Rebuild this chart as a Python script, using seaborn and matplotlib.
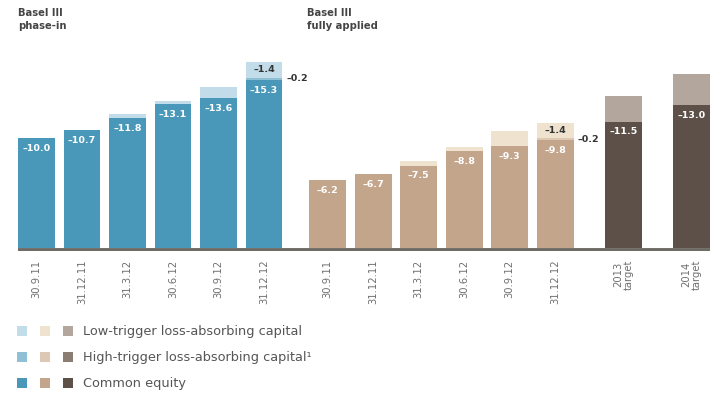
import matplotlib
matplotlib.use("Agg")
import matplotlib.pyplot as plt
from matplotlib.patches import Rectangle
import numpy as np
import pandas as pd
import seaborn as sns

# ---- data (capital ratios, %) ----
period_labels = ["30.9.11", "31.12.11", "31.3.12", "30.6.12", "30.9.12", "31.12.12"]
target_labels = ["2013\ntarget", "2014\ntarget"]

phase_in_common = [10.0, 10.7, 11.8, 13.1, 13.6, 15.3]
phase_in_high = [0.0, 0.0, 0.0, 0.0, 0.0, 0.2]
phase_in_low = [0.0, 0.0, 0.4, 0.3, 1.0, 1.4]

fully_common = [6.2, 6.7, 7.5, 8.8, 9.3, 9.8]
fully_high = [0.0, 0.0, 0.0, 0.0, 0.0, 0.2]
fully_low = [0.0, 0.0, 0.4, 0.4, 1.3, 1.4]

target_common = [11.5, 13.0]
target_high = [0.0, 0.0]
target_low = [2.3, 2.8]

# colours per group: (common equity, high-trigger, low-trigger)
group_colors = {
    "phase": ("#4a98b9", "#8fc0d6", "#c2dce9"),
    "fully": ("#c3a58b", "#dcc8b3", "#efe3d0"),
    "target": ("#5d5049", "#8c7d73", "#b3a79d"),
}

# ---- assemble the table ----
rows = []
groups = [
    ("phase", period_labels, phase_in_common, phase_in_high, phase_in_low, 0.0),
    ("fully", period_labels, fully_common, fully_high, fully_low, 6.4),
    ("target", target_labels, target_common, target_high, target_low, 12.9),
]
for gname, labels, ce, hi, lo, start in groups:
    step = 1.5 if gname == "target" else 1.0
    for i, lab in enumerate(labels):
        rows.append(dict(group=gname, label=lab, key=f"{gname}|{lab}",
                         pos=start + i * step, common=ce[i], high=hi[i], low=lo[i]))
df = pd.DataFrame(rows)
df["common_high"] = df["common"] + df["high"]
df["total"] = df["common_high"] + df["low"]

# ---- figure ----
sns.set_theme(style="white")
plt.rcParams["font.family"] = ["DejaVu Sans"]
fig = plt.figure(figsize=(7.15, 4.16), dpi=100)
fig.patch.set_facecolor("white")

px_w, px_h = 715.0, 416.0
ax_left = 18 / px_w
ax = fig.add_axes([ax_left, (416 - 251.3) / px_h, 1 - ax_left, 223.3 / px_h])

bar_width = 0.81
layers = [("total", 2), ("common_high", 1), ("common", 0)]
for col, ci in layers:
    pal = {k: group_colors[g][ci] for k, g in zip(df["key"], df["group"])}
    sns.barplot(data=df, x="pos", y=col, hue="key", palette=pal, native_scale=True,
                dodge=False, width=bar_width, saturation=1, legend=False,
                linewidth=0, ax=ax)

ax.set_xlim(-(36.5 - 18) / 45.5, (715 - 36.5) / 45.5)
ax.set_ylim(-0.3, 20)
ax.plot([ax.get_xlim()[0], 14.8], [-0.14, -0.14], color="#6e6a66", lw=2.8,
        zorder=5, solid_capstyle="butt")

# ---- value labels ----
for _, r in df.iterrows():
    ax.text(r["pos"], r["common"] - 0.95, f"\u2013{r['common']:.1f}", ha="center",
            va="center", color="white", fontsize=6.8, fontweight="bold", zorder=6)
    if r["label"] == "31.12.12":
        ax.text(r["pos"], r["common_high"] + r["low"] / 2, f"\u2013{r['low']:.1f}",
                ha="center", va="center", color="#333333", fontsize=6.8,
                fontweight="bold", zorder=6)
        ax.text(r["pos"] + bar_width / 2 + 0.08, r["common"] + 0.1, f"\u2013{r['high']:.1f}",
                ha="left", va="center", color="#333333", fontsize=6.8,
                fontweight="bold", zorder=6)

# ---- axes styling ----
ax.set_xticks(df["pos"])
ax.set_xticklabels(df["label"], rotation=90, fontsize=7.2, color="#707070",
                   ha="center", va="top", linespacing=1.0)
ax.tick_params(axis="x", length=0, pad=6)
ax.set_yticks([])
ax.set_xlabel("")
ax.set_ylabel("")
for s in ax.spines.values():
    s.set_visible(False)
ax.set_facecolor("white")

# ---- section headers ----
fig.text(18 / px_w, 1 - 8 / px_h, "Basel III\nphase-in", ha="left", va="top",
         fontsize=7.2, fontweight="bold", color="#444444", linespacing=1.35)
fig.text(307 / px_w, 1 - 8 / px_h, "Basel III\nfully applied", ha="left", va="top",
         fontsize=7.2, fontweight="bold", color="#444444", linespacing=1.35)

# ---- legend ----
legend_items = [
    ("Low-trigger loss-absorbing capital", 2, 331),
    ("High-trigger loss-absorbing capital\u00b9", 1, 357),
    ("Common equity", 0, 383),
]
swatch_x = [17, 40, 63]
for text, ci, yc in legend_items:
    for sx, g in zip(swatch_x, ["phase", "fully", "target"]):
        fig.patches.append(Rectangle((sx / px_w, (416 - yc - 5) / px_h), 10 / px_w, 10 / px_h,
                                     transform=fig.transFigure, facecolor=group_colors[g][ci],
                                     edgecolor="none"))
    fig.text(83 / px_w, (416 - yc) / px_h, text, ha="left", va="center",
             fontsize=9.3, color="#555555")

fig.savefig("out.png", dpi=100, facecolor="white")
